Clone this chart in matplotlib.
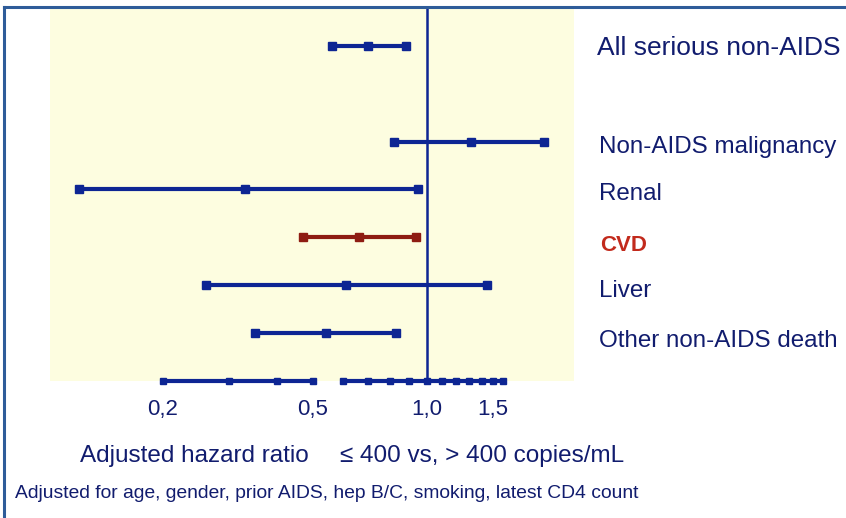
import matplotlib
matplotlib.use("Agg")
import matplotlib.pyplot as plt
from matplotlib.lines import Line2D
import matplotlib.transforms as mtransforms

plt.rcParams['font.family'] = ['Liberation Sans', 'DejaVu Sans']

# ---- data ----
categories = ["All serious non-AIDS", "Non-AIDS malignancy", "Renal", "CVD", "Liver", "Other non-AIDS death"]
row_pos = [0, 2, 3, 4, 5, 6]
hr = [0.70, 1.31, 0.33, 0.66, 0.61, 0.54]
ci_low = [0.56, 0.82, 0.12, 0.47, 0.26, 0.35]
ci_high = [0.88, 2.05, 0.95, 0.94, 1.45, 0.83]
axis_ticks_left = [0.2, 0.3, 0.4, 0.5]
axis_ticks_right = [0.6, 0.7, 0.8, 0.9, 1.0, 1.1, 1.2, 1.3, 1.4, 1.5, 1.6]
tick_vals = [0.2, 0.5, 1.0, 1.5]
tick_labels = ["0,2", "0,5", "1,0", "1,5"]

navy = "#0d2593"
text_navy = "#111c6e"
dark_red = "#8e1c12"
red_text = "#c22a1c"
frame_blue = "#2e5c99"

W, H = 846, 518
fig = plt.figure(figsize=(W / 100, H / 100), dpi=100)
fig.patch.set_facecolor("white")

ax_l, ax_r, ax_t, ax_b = 50, 574, 9, 381
ax = fig.add_axes([ax_l / W, 1 - ax_b / H, (ax_r - ax_l) / W, (ax_b - ax_t) / H])
ax.set_facecolor("#fdfde0")
ax.set_xscale("log")
ax.set_xlim(0.1003, 2.461)
ax.set_ylim(7, -0.77)
for s in ax.spines.values():
    s.set_visible(False)
ax.set_yticks([])
ax.set_xticks(tick_vals)
ax.set_xticklabels(tick_labels, fontsize=16, color=text_navy)
ax.xaxis.set_minor_locator(matplotlib.ticker.NullLocator())
ax.tick_params(axis="x", length=0, pad=13)

# reference line at 1
ax.axvline(1.0, color=navy, lw=1.8, zorder=2)

# bottom axis drawn as segments with square ticks
y_axis = 7
ax.plot(axis_ticks_left, [y_axis] * len(axis_ticks_left), color=navy, lw=3,
        marker="s", ms=5, clip_on=False, zorder=3)
ax.plot(axis_ticks_right, [y_axis] * len(axis_ticks_right), color=navy, lw=3,
        marker="s", ms=5, clip_on=False, zorder=3)

# forest rows
for cat, y, m, lo, hi in zip(categories, row_pos, hr, ci_low, ci_high):
    c = dark_red if cat == "CVD" else navy
    ax.plot([lo, m, hi], [y, y, y], color=c, lw=3, marker="s", ms=5.5,
            solid_capstyle="butt", zorder=4)

# category labels (small vertical nudges, in row units)
label_nudge = [0.04, 0.11, 0.09, 0.16, 0.11, 0.17]
trans = mtransforms.blended_transform_factory(ax.transAxes, ax.transData)
for cat, y, dy in zip(categories, row_pos, label_nudge):
    if cat == "CVD":
        ax.text(1.0496, y + dy, cat, transform=trans, fontsize=16, color=red_text,
                fontweight="bold", va="center", ha="left")
    elif cat == "All serious non-AIDS":
        ax.text(1.044, y + dy, cat, transform=trans, fontsize=19, color=text_navy,
                va="center", ha="left")
    else:
        ax.text(1.0485, y + dy, cat, transform=trans, fontsize=17.4, color=text_navy,
                va="center", ha="left")

# bottom texts
fig.text(80 / W, 1 - 456 / H, "Adjusted hazard ratio", fontsize=17.5, color=text_navy,
         va="center", ha="left")
fig.text(340 / W, 1 - 456 / H, "≤ 400 vs, > 400 copies/mL", fontsize=17.5, color=text_navy,
         va="center", ha="left")
fig.text(15 / W, 1 - 494 / H,
         "Adjusted for age, gender, prior AIDS, hep B/C, smoking, latest CD4 count",
         fontsize=13.9, color=text_navy, va="center", ha="left")

# frame lines
fig.add_artist(Line2D([4 / W, 1], [1 - 7 / H, 1 - 7 / H], color=frame_blue, lw=2.2,
                      transform=fig.transFigure))
fig.add_artist(Line2D([4 / W, 4 / W], [0, 1 - 7 / H], color=frame_blue, lw=2.2,
                      transform=fig.transFigure))

fig.savefig("out.png", dpi=100, facecolor="white")
